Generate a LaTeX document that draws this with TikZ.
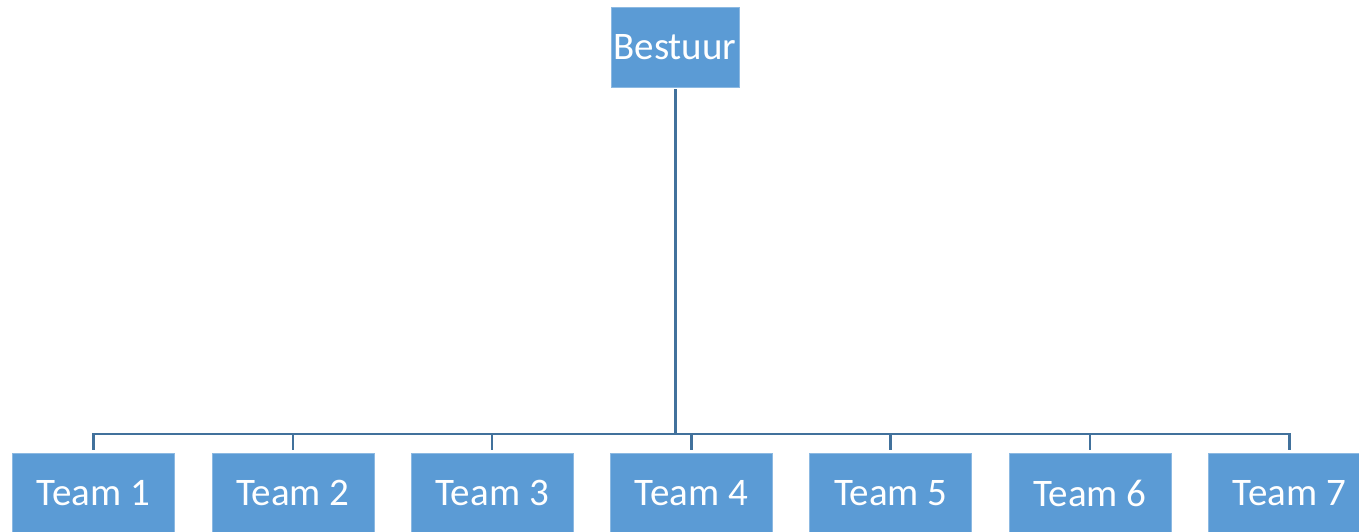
\documentclass[tikz,border=0pt]{standalone}
\usepackage{fontspec}
\setmainfont{Carlito}
\definecolor{boxblue}{HTML}{5B9BD5}
\definecolor{lineblue}{HTML}{41719C}
\begin{document}
\begin{tikzpicture}[x=1pt,y=-1pt,
  orgbox/.style={fill=boxblue, draw=boxblue!70!white, line width=0.6pt, text=white,
    minimum width=162pt, minimum height=80pt, inner sep=0pt,
    font=\fontsize{39}{42}\selectfont},
  conn/.style={draw=lineblue, line width=3pt}]
\useasboundingbox (0,0) rectangle (1359,531);
\clip (0,0) rectangle (1359,531);
\node[orgbox, minimum width=128pt] (b) at (675,47) {Bestuur};
\foreach \i/\x in {1/93.5,2/292.8,3/492.1,4/691.4,5/890.7,6/1090,7/1289.3}{
  \node[orgbox] (t\i) at (\x,493) {Team \i};
}
\coordinate (bus) at (0,434);
\draw[conn, shorten <=2pt] (b.south) -- (b.south |- bus);
\draw[conn, line width=2.5pt] ([xshift=-1.25pt]t1.north |- bus) -- ([xshift=1.25pt]t7.north |- bus);
\foreach \i in {1,...,7}{
  \draw[conn, line width=2.5pt, shorten >=3pt] (t\i.north |- bus) -- (t\i.north);
}
\end{tikzpicture}
\end{document}
